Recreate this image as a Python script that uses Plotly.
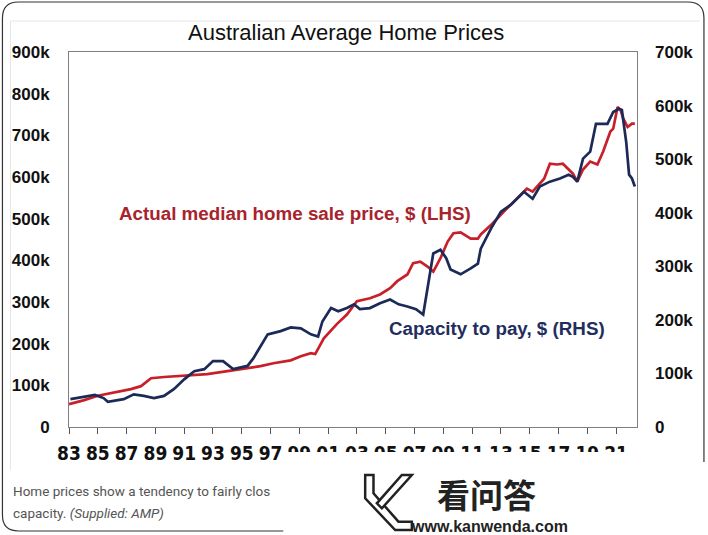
import plotly.graph_objects as go

# ---- Data ----
price_years = [1983.0, 1984.0, 1985.0, 1986.0, 1987.3, 1988.0, 1988.7, 1989.6, 1990.5, 1991.4,
               1992.6, 1994.0, 1995.1, 1996.3, 1997.2, 1998.4, 1999.1, 1999.8, 2000.1, 2000.7,
               2001.6, 2002.3, 2003.0, 2003.9, 2004.6, 2005.3, 2005.8, 2006.5, 2006.9, 2007.4,
               2007.9, 2008.3, 2008.8, 2009.3, 2009.7, 2010.2, 2010.9, 2011.4, 2011.6, 2012.4,
               2013.4, 2014.1, 2014.8, 2015.2, 2016.0, 2016.4, 2016.9, 2017.3, 2017.7, 2018.0,
               2018.3, 2018.7, 2019.2, 2019.7, 2020.1, 2020.6, 2020.8, 2021.1, 2021.3, 2021.5,
               2021.8, 2022.1, 2022.3]
price_values = [55, 64, 75, 82, 91, 98, 117, 120, 122, 124,
                127, 134, 139, 146, 153, 160, 170, 177, 175, 213,
                247, 270, 302, 309, 318, 333, 350, 366, 393, 397,
                385, 373, 405, 445, 465, 467, 452, 452, 462, 488,
                524, 548, 572, 565, 596, 632, 630, 632, 618, 608,
                589, 618, 637, 630, 661, 709, 716, 768, 761, 740,
                720, 728, 728]

capacity_years = [1983.1, 1984.3, 1984.8, 1985.4, 1985.7, 1986.8, 1987.5, 1988.2, 1988.9, 1989.6,
                  1990.3, 1991.0, 1991.7, 1992.4, 1993.0, 1993.7, 1994.4, 1995.4, 1995.8, 1996.8,
                  1997.7, 1998.4, 1999.1, 1999.8, 2000.3, 2000.6, 2001.2, 2001.7, 2002.3, 2002.8,
                  2003.2, 2003.9, 2004.6, 2005.3, 2005.9, 2006.5, 2007.1, 2007.6, 2008.0, 2008.3,
                  2008.8, 2009.2, 2009.5, 2010.2, 2010.9, 2011.4, 2011.6, 2012.3, 2013.0, 2013.7,
                  2014.6, 2015.2, 2015.7, 2016.4, 2017.1, 2017.7, 2018.0, 2018.3, 2018.7, 2019.2,
                  2019.6, 2020.4, 2020.8, 2021.2, 2021.4, 2021.7, 2021.9, 2022.1, 2022.3]
capacity_values = [52, 58, 60, 54, 47, 52, 61, 58, 54, 58,
                   71, 89, 104, 108, 123, 123, 108, 114, 128, 173,
                   179, 186, 184, 173, 169, 197, 222, 216, 222, 229,
                   220, 222, 231, 238, 229, 225, 220, 210, 272, 324,
                   331, 315, 294, 285, 296, 305, 333, 370, 402, 415,
                   439, 426, 449, 458, 464, 471, 467, 458, 501, 514,
                   566, 566, 588, 594, 592, 532, 471, 464, 449]

x_tick_years = list(range(1983, 2022, 2))
x_tick_labels = [f"{y % 100:02d}" for y in x_tick_years]
lhs_ticks = list(range(0, 901, 100))
lhs_labels = ["0"] + [f"{v}k" for v in lhs_ticks[1:]]
rhs_ticks = list(range(0, 701, 100))
rhs_labels = ["0"] + [f"{v}k" for v in rhs_ticks[1:]]

# ---- Layout geometry (pixels) ----
W, H = 708, 535
L, R, T, B = 68.6, 637.0, 52.0, 427.0

def px(x):
    return (x - L) / (R - L)

def py(y):
    return (B - y) / (B - T)

RED = "#C8202A"
NAVY = "#1B2A57"

fig = go.Figure()
fig.add_trace(go.Scatter(x=price_years, y=price_values, mode="lines",
                         line=dict(color=RED, width=2.7), yaxis="y", showlegend=False))
fig.add_trace(go.Scatter(x=capacity_years, y=capacity_values, mode="lines",
                         line=dict(color=NAVY, width=2.7), yaxis="y2", showlegend=False))

tick_font = dict(family="Liberation Sans", size=17, color="#111111", weight="bold")

fig.update_layout(
    width=W, height=H,
    margin=dict(l=L, r=W - R, t=T, b=H - B, pad=0),
    paper_bgcolor="white", plot_bgcolor="white",
    xaxis=dict(range=[1983, 2022.45], tickvals=x_tick_years, ticktext=x_tick_labels,
               showgrid=False, zeroline=False, showline=True, linecolor="#7f7f7f", linewidth=1,
               mirror=True, ticks="outside", ticklen=6, tickcolor="#555555",
               tickfont=dict(family="DejaVu Sans Condensed, Liberation Sans", size=19,
                             color="#111111", weight="bold"),
               ticklabelstandoff=3),
    yaxis=dict(range=[0, 900], tickvals=lhs_ticks, ticktext=lhs_labels,
               showgrid=False, zeroline=False, showline=True, linecolor="#7f7f7f", linewidth=1,
               mirror=True, ticks="", tickfont=tick_font, ticklabelstandoff=15),
    yaxis2=dict(range=[0, 700], tickvals=rhs_ticks, ticktext=rhs_labels, overlaying="y",
                side="right", showgrid=False, zeroline=False, showline=False, ticks="",
                tickfont=tick_font, ticklabelstandoff=17),
)

annotations = [
    dict(text="Australian Average Home Prices", x=px(346), y=py(32), xref="paper", yref="paper",
         showarrow=False, xanchor="center", yanchor="middle",
         font=dict(family="Liberation Sans", size=22, color="#111111")),
    dict(text="Actual median home sale price, $ (LHS)", x=px(117), y=py(213), xref="paper", yref="paper",
         showarrow=False, xanchor="left", yanchor="middle",
         font=dict(family="Liberation Sans", size=18.8, color="#A8232B", weight="bold")),
    dict(text="Capacity to pay, $ (RHS)", x=px(387), y=py(328), xref="paper", yref="paper",
         showarrow=False, xanchor="left", yanchor="middle",
         font=dict(family="Liberation Sans", size=18.8, color="#1F2E5E", weight="bold")),
    dict(text="Home prices show a tendency to fairly clos", x=px(11), y=py(491), xref="paper", yref="paper",
         showarrow=False, xanchor="left", yanchor="middle",
         font=dict(family="Roboto", size=13.5, color="#555555")),
    dict(text="capacity. <i>(Supplied: AMP)</i>", x=px(11), y=py(513), xref="paper", yref="paper",
         showarrow=False, xanchor="left", yanchor="middle",
         font=dict(family="Roboto", size=13.5, color="#555555")),
    dict(text="看问答", x=px(486), y=py(494), xref="paper", yref="paper",
         showarrow=False, xanchor="center", yanchor="middle",
         font=dict(family="Noto Sans CJK SC", size=33, color="#222222", weight="bold")),
    dict(text="www.kanwenda.com", x=px(489), y=py(526), xref="paper", yref="paper",
         showarrow=False, xanchor="center", yanchor="middle",
         font=dict(family="Liberation Sans", size=16, color="#222222", weight="bold")),
]
fig.update_layout(annotations=annotations)

def poly(points):
    d = "M " + " L ".join(f"{px(a):.5f},{py(b):.5f}" for a, b in points) + " Z"
    return d

def line(x0, y0, x1, y1, color, width):
    return dict(type="line", xref="paper", yref="paper", x0=px(x0), y0=py(y0), x1=px(x1), y1=py(y1),
                line=dict(color=color, width=width), layer="above")

shapes = [
    # white overlay covering the lower right part of the screenshot
    dict(type="rect", xref="paper", yref="paper", x0=px(283), x1=px(703), y0=py(452), y1=py(536),
         fillcolor="white", line=dict(width=0), layer="above"),
    # faint inner frame of the embedded image
    line(10, 21, 700, 21, "#e6e6e6", 1),
    line(10, 21, 10, 470, "#e6e6e6", 1),
    # outer rounded border of the card
    dict(type="path", xref="paper", yref="paper", layer="above",
         path=(f"M {px(283):.5f},{py(531):.5f} L {px(18):.5f},{py(531):.5f} "
               f"Q {px(2):.5f},{py(531):.5f} {px(2):.5f},{py(515):.5f} "
               f"L {px(2):.5f},{py(18):.5f} Q {px(2):.5f},{py(2):.5f} {px(18):.5f},{py(2):.5f} "
               f"L {px(688):.5f},{py(2):.5f} Q {px(704):.5f},{py(2):.5f} {px(704):.5f},{py(18):.5f} "
               f"L {px(704):.5f},{py(462):.5f}"),
         line=dict(color="#333333", width=1.2)),
    # watermark logo (outlined K)
    dict(type="path", xref="paper", yref="paper", layer="above",
         path=poly([(365, 475), (373.3, 475), (373.3, 493.3), (398.3, 521.7), (411.7, 521.7),
                    (411.7, 530), (395, 530), (365, 498.3)]),
         line=dict(color="#222222", width=2.5), fillcolor="white"),
    dict(type="path", xref="paper", yref="paper", layer="above",
         path=poly([(401.7, 475), (411.7, 475), (381.7, 508.3), (376.7, 503.3)]),
         line=dict(color="#222222", width=2.5), fillcolor="white"),
]
fig.update_layout(shapes=shapes)

fig.write_html("out.html", config={"displayModeBar": False},
               post_script="document.body.style.margin='0';document.body.style.overflow='hidden';")
